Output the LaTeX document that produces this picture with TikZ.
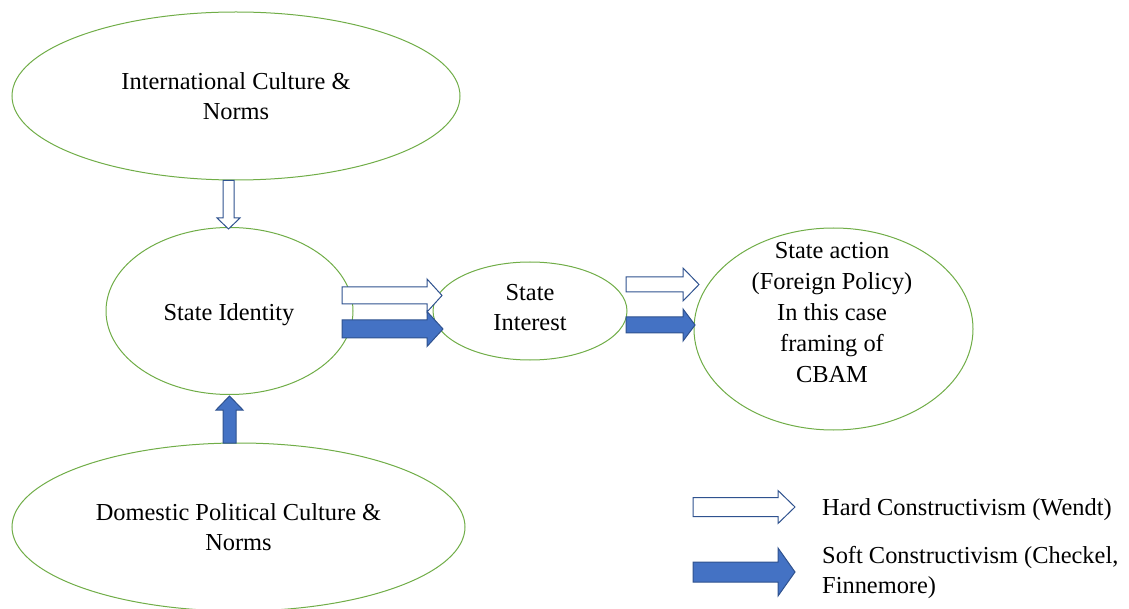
\documentclass[tikz,border=0pt]{standalone}
\usepackage{fontspec}
\setmainfont{Liberation Serif}
\usetikzlibrary{shapes.geometric}
\definecolor{elgreen}{RGB}{112,173,71}
\definecolor{arblue}{RGB}{68,114,196}
\definecolor{arborder}{RGB}{47,82,143}
\tikzset{
  oval/.style={draw=elgreen, line width=1pt, ellipse, inner sep=0pt, fill=white},
  lbl/.style={font=\fontsize{24.4}{30}\selectfont, align=center, inner sep=0pt},
  hollowarr/.style={draw=arborder, line width=1pt, fill=white, line join=miter},
  solidarr/.style={draw=arborder, line width=1pt, fill=arblue, line join=miter}
}
% #1 style, #2 start, #3 rotation, #4 length, #5 shaft half width, #6 head half width, #7 head length
\newcommand{\barr}[7]{%
  \draw[#1,shift={#2},rotate=#3] (0,-#5) -- ({#4-#7},-#5) -- ({#4-#7},-#6) -- (#4,0)
    -- ({#4-#7},#6) -- ({#4-#7},#5) -- (0,#5) -- cycle;}
\begin{document}
\begin{tikzpicture}[x=1pt,y=-1pt]
\useasboundingbox (0,0) rectangle (1129,609);
\node[oval, minimum width=448, minimum height=168, lbl] (intl) at (236,96) {International Culture \&\\Norms};
\node[oval, minimum width=247, minimum height=167] (ident) at (229.5,311) {};
\node[lbl] (identtxt) at (229,315) {State Identity};
\node[oval, minimum width=194, minimum height=98] (inter) at (530,311) {};
\node[lbl] (intertxt) at (530,308) {State\\Interest};
\node[oval, minimum width=279, minimum height=202] (act) at (833.5,329) {};
\node[lbl, font=\fontsize{24.4}{31}\selectfont] (acttxt) at (832,313) {State action\\(Foreign Policy)\\In this case\\framing of\\CBAM};
\node[oval, minimum width=453, minimum height=168, lbl] (dom) at (238.5,527) {Domestic Political Culture \&\\Norms};

% block arrows
\barr{hollowarr}{(228.5,180.5)}{-90}{48.5}{5.5}{11.5}{11}
\barr{solidarr}{(229.5,443)}{90}{47}{6.5}{13.5}{14}
\barr{hollowarr}{(342,295.5)}{0}{100}{8.5}{16.5}{15}
\barr{solidarr}{(342,329)}{0}{101}{9}{17.5}{16}
\barr{hollowarr}{(626,284.5)}{0}{73}{7.5}{16.5}{16}
\barr{solidarr}{(626,325)}{0}{69}{8}{16}{12}
\barr{hollowarr}{(693,507)}{0}{102}{9.5}{16.5}{17}
\barr{solidarr}{(693,572)}{0}{102}{10}{24}{17}

\node[lbl, anchor=west, align=left] (hard) at (822,510) {Hard Constructivism (Wendt)};
\node[lbl, anchor=west, align=left] (soft) at (822,573) {Soft Constructivism (Checkel,\\Finnemore)};
\end{tikzpicture}
\end{document}
